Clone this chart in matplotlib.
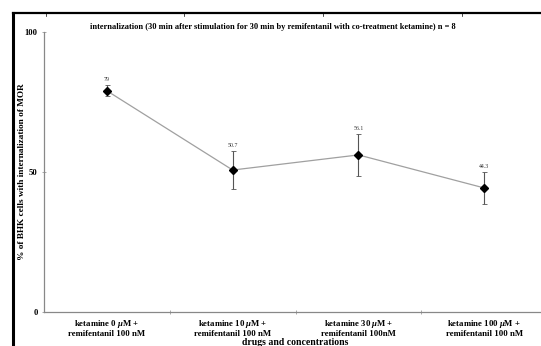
import numpy as np
import matplotlib; matplotlib.use("Agg")
import matplotlib.pyplot as plt
from matplotlib.lines import Line2D

categories = ["ketamine 0 $\\mu$M +\nremifentanil 100 nM",
              "ketamine 10 $\\mu$M +\nremifentanil 100 nM",
              "ketamine 30 $\\mu$M +\nremifentanil 100nM",
              "ketamine 100 $\\mu$M +\nremifentanil 100 nM"]
values = [79, 50.7, 56.1, 44.3]
errors = [2.0, 6.8, 7.4, 5.6]
labels = ["79", "50.7", "56.1", "44.3"]

plt.rcParams["font.family"] = ["Liberation Serif", "DejaVu Serif"]
plt.rcParams["mathtext.fontset"] = "custom"
plt.rcParams["mathtext.it"] = "Liberation Serif:italic:bold"
plt.rcParams["mathtext.rm"] = "Liberation Serif:bold"

fig = plt.figure(figsize=(5.41, 3.46), dpi=100, facecolor="white")
ax = fig.add_axes([44/541, 34/346, 0.93, 280/346])

x = np.arange(len(values)) + 0.5
ax.plot(x, values, color="#a0a0a0", lw=0.9, zorder=2)
ax.errorbar(x, values, yerr=errors, fmt="none", ecolor="#555555",
            elinewidth=0.8, capsize=1.8, capthick=0.6, zorder=3)
ax.plot(x, values, ls="none", marker="D", ms=4, color="black", zorder=4)
for xi, v, e, t in zip(x, values, errors, labels):
    ax.annotate(t, (xi, v + e), xytext=(0, 2.5), textcoords="offset points",
                ha="center", va="bottom", fontsize=4.2, color="#333333")

ax.set_xlim(0, 4)
ax.set_ylim(0, 100)
ax.set_yticks([0, 50, 100])
ax.set_yticklabels(["0", "50", "100"], fontsize=6.2, fontweight="bold")
ax.set_xticks([1, 2, 3])
ax.set_xticklabels([])
ax.set_xticks(x, minor=True)
ax.set_xticklabels(categories, minor=True, fontsize=6.3, fontweight="bold",
                   linespacing=1.05)
ax.tick_params(axis="x", which="minor", length=0, pad=4)
ax.tick_params(axis="x", which="major", direction="inout", length=3,
               width=0.5, color="#888888")
ax.tick_params(axis="y", direction="inout", length=3, width=0.5,
               color="#888888", pad=3)
for s in ["top", "right"]:
    ax.spines[s].set_visible(False)
for s in ["left", "bottom"]:
    ax.spines[s].set_color("#888888")
    ax.spines[s].set_linewidth(0.9)

ax.set_ylabel("% of BHK cells with internalization of MOR", fontsize=6.7,
              fontweight="bold")
ax.yaxis.set_label_coords(-18/502, 0.5)
ax.set_xlabel("drugs and concentrations", fontsize=7, fontweight="bold")
ax.xaxis.set_label_coords(0.5, -26/280)
fig.text(273/541, 1 - 27/346, "internalization (30 min after stimulation for 30 min "
         "by remifentanil with co-treatment ketamine) n = 8",
         ha="center", va="center", fontsize=6.0, fontweight="bold")

# outer frame (top and left edges)
fig.add_artist(Line2D([13/541, 1], [1 - 13/346] * 2, color="black", lw=1.6))
fig.add_artist(Line2D([13/541] * 2, [0, 1 - 13/346], color="black", lw=2.2))
for tx in [46, 184, 323, 462]:
    fig.add_artist(Line2D([tx/541] * 2, [1 - 12/346, 1 - 16/346],
                          color="black", lw=0.5))

fig.savefig("out.png", dpi=100, facecolor="white")
